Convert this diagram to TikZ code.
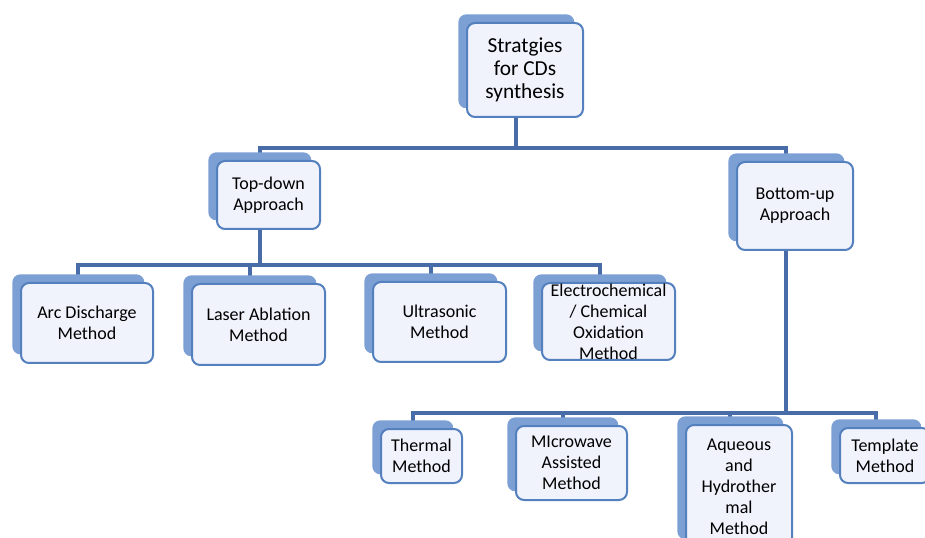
\documentclass[tikz,border=0pt]{standalone}
\usepackage{fontspec}
\setmainfont{Carlito}
\usepackage{xcolor}
\usepackage{tikz}
\usetikzlibrary{shadows}
\definecolor{linkblue}{RGB}{72,108,168}
\definecolor{boxline}{RGB}{84,128,190}
\definecolor{boxfill}{RGB}{240,242,252}
\definecolor{boxback}{RGB}{124,159,212}
\pgfdeclarelayer{background}
\pgfsetlayers{background,main}

\begin{document}
\begin{tikzpicture}[x=0.75pt, y=-0.75pt,
  box/.style={rectangle, rounded corners=6pt, draw=boxline, line width=1.5pt, fill=boxfill, inner sep=0pt, align=center, font=\fontsize{13.5}{15.75}\selectfont, copy shadow={shadow xshift=-6.5pt, shadow yshift=6.5pt, fill=boxback, draw=none}},
  link/.style={draw=linkblue, line width=3pt}]
\useasboundingbox (0,0) rectangle (925,538);
\node (strat) [box, minimum width=87pt, minimum height=70.5pt, font=\fontsize{16}{17.25}\selectfont] at (525,70) {Stratgies\\for CDs\\synthesis};
\node (topdown) [box, minimum width=77.25pt, minimum height=51pt] at (268.5,195) {Top-down\\Approach};
\node (bottomup) [box, minimum width=87pt, minimum height=66pt] at (795,206) {Bottom-up\\Approach};
\node (arc) [box, minimum width=99pt, minimum height=60pt] at (87,323) {Arc Discharge\\Method};
\node (laser) [box, minimum width=99.75pt, minimum height=60.75pt] at (258.5,324.5) {Laser Ablation\\Method};
\node (ultra) [box, minimum width=99.75pt, minimum height=60pt] at (439.5,322) {Ultrasonic\\Method};
\node (electro) [box, minimum width=99.75pt, minimum height=57.75pt] at (608.5,321.5) {Electrochemical\\/ Chemical\\Oxidation\\Method};
\node (thermal) [box, minimum width=60.75pt, minimum height=40.5pt] at (421.5,456) {Thermal\\Method};
\node (microwave) [box, minimum width=83.25pt, minimum height=55.5pt] at (571.5,463) {MIcrowave\\Assisted\\Method};
\node (aqueous) [box, minimum width=79.5pt, minimum height=92.25pt] at (739,486.5) {Aqueous\\and\\Hydrother\\mal\\Method};
\node (template) [box, minimum width=67.5pt, minimum height=41.25pt] at (885,455.5) {Template\\Method};

\begin{pgfonlayer}{background}
\draw[link] ([xshift=-6.5pt]strat.south) -- ++(0,30) -| ([xshift=-6.5pt]topdown.north);
\draw[link] ([xshift=-6.5pt]strat.south) -- ++(0,30) -| ([xshift=-6.5pt]bottomup.north);
\draw[link] ([xshift=-6.5pt]topdown.south) -- ++(0,35) -| ([xshift=-6.5pt]arc.north);
\draw[link] ([xshift=-6.5pt]topdown.south) -- ++(0,35) -| ([xshift=-6.5pt]laser.north);
\draw[link] ([xshift=-6.5pt]topdown.south) -- ++(0,35) -| ([xshift=-6.5pt]ultra.north);
\draw[link] ([xshift=-6.5pt]topdown.south) -- ++(0,35) -| ([xshift=-6.5pt]electro.north);
\draw[link] ([xshift=-6.5pt]bottomup.south) -- ++(0,162) -| ([xshift=-6.5pt]thermal.north);
\draw[link] ([xshift=-6.5pt]bottomup.south) -- ++(0,162) -| ([xshift=-6.5pt]microwave.north);
\draw[link] ([xshift=-6.5pt]bottomup.south) -- ++(0,162) -| ([xshift=-6.5pt]aqueous.north);
\draw[link] ([xshift=-6.5pt]bottomup.south) -- ++(0,162) -| ([xshift=-6.5pt]template.north);
\end{pgfonlayer}
\end{tikzpicture}
\end{document}
